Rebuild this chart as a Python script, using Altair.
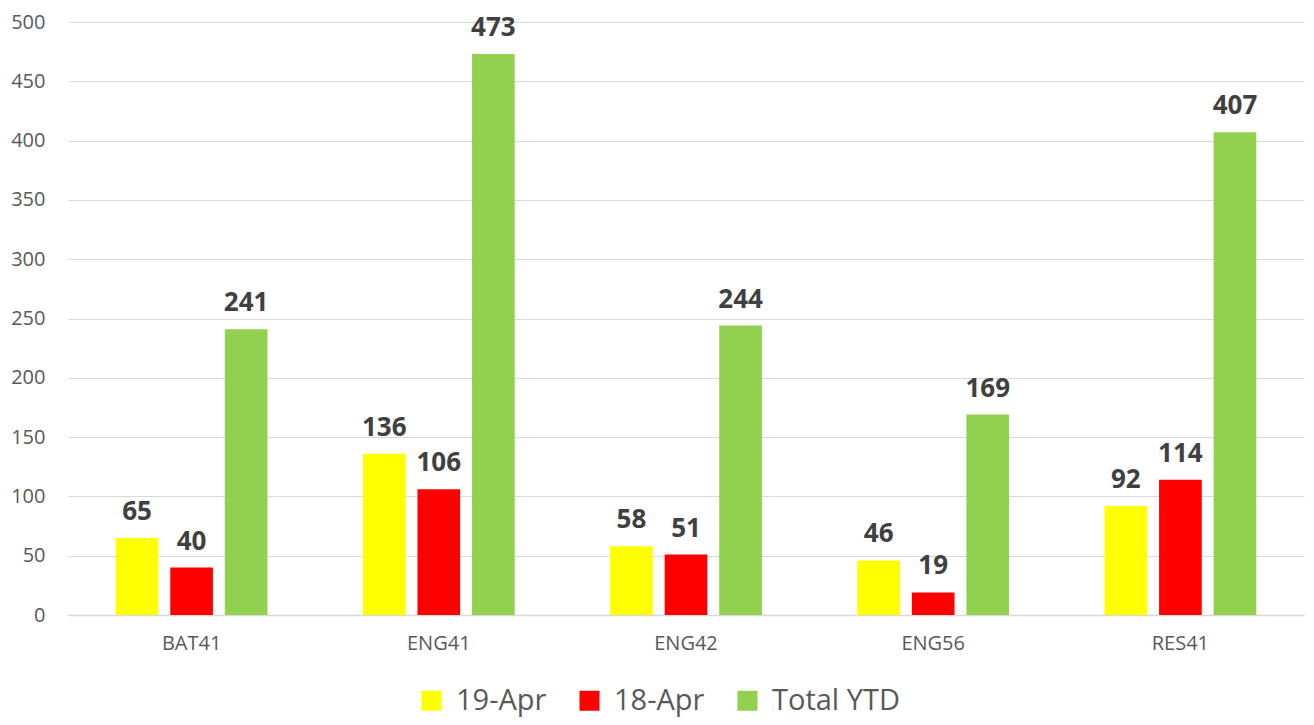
import altair as alt
import pandas as pd

categories = ["BAT41", "ENG41", "ENG42", "ENG56", "RES41"]
series = ["19-Apr", "18-Apr", "Total YTD"]
apr19 = [65, 136, 58, 46, 92]
apr18 = [40, 106, 51, 19, 114]
ytd = [241, 473, 244, 169, 407]
colors = ["#FFFF00", "#FF0000", "#92D050"]
y_ticks = list(range(0, 501, 50))

rows = []
for i, c in enumerate(categories):
    for s, vals in zip(series, [apr19, apr18, ytd]):
        rows.append({"cat": c, "series": s, "value": vals[i]})
df = pd.DataFrame(rows)

base = alt.Chart(df).encode(
    x=alt.X(
        "cat:N",
        sort=categories,
        scale=alt.Scale(paddingInner=0.386, paddingOuter=0.193),
        axis=alt.Axis(
            title=None, labelAngle=0, labelFont="Open Sans", labelFontSize=20,
            labelColor="#595959", ticks=False, domainColor="#D9D9D9",
            domainWidth=1.5, labelPadding=18, grid=False,
        ),
    ),
    xOffset=alt.XOffset(
        "series:N", sort=series,
        scale=alt.Scale(domain=series, paddingInner=0.218, paddingOuter=0),
    ),
    y=alt.Y(
        "value:Q",
        scale=alt.Scale(domain=[0, 500], nice=False),
        axis=alt.Axis(
            title=None, values=y_ticks, labelFont="Open Sans", labelFontSize=20,
            labelColor="#595959", ticks=False, domain=False, grid=True,
            gridColor="#D9D9D9", gridWidth=1.2, labelPadding=23,
        ),
    ),
)

bars = base.mark_bar().encode(
    color=alt.Color(
        "series:N",
        sort=series,
        scale=alt.Scale(domain=series, range=colors),
        legend=alt.Legend(
            title=None, orient="none", legendX=349, legendY=664, padding=0,
            direction="horizontal", columns=3, symbolType="square",
            symbolSize=400, symbolStrokeWidth=0, labelFont="Open Sans",
            labelFontSize=29, labelColor="#595959", labelOffset=10,
            columnPadding=28, labelLimit=300,
        ),
    )
)

labels = base.mark_text(
    baseline="alphabetic", dy=-18, font="Open Sans", fontSize=26,
    fontWeight="bold", color="#404040",
).encode(text="value:Q")

chart = (
    alt.layer(bars, labels)
    .properties(
        width=1236, height=593,
        autosize=alt.AutoSizeParams(type="none"),
        padding={"left": 60, "top": 14, "right": 2, "bottom": 102},
    )
    .configure_view(stroke=None)
)

chart.save("out.html", embed_options={"renderer": "svg", "actions": False})
